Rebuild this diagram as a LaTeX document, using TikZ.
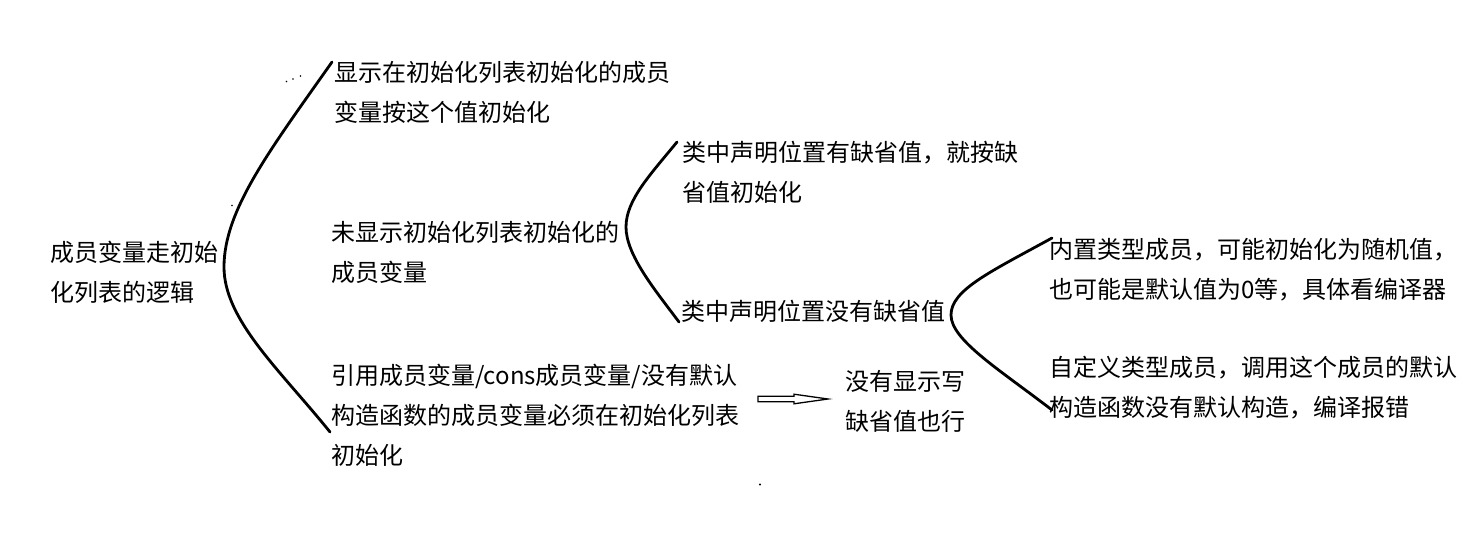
\documentclass[tikz,border=0pt]{standalone}
\usepackage{fontspec}
\setmainfont{Noto Sans CJK SC}
\begin{document}
\begin{tikzpicture}[x=1pt,y=-1pt,
  txt/.style={anchor=west,align=left,inner sep=0pt,font=\fontsize{24pt}{40pt}\selectfont},
  brace/.style={line width=2.8pt,line cap=round,line join=round},
  hollow/.style={line width=1.3pt,fill=white,line join=miter},
  speck/.style={fill=black,inner sep=0pt,minimum size=1.6pt,circle}]
\useasboundingbox[fill=white] (0,0) rectangle (1479,543);

\node[txt] (root) at (50,272) {成员变量走初始\\化列表的逻辑};
\node[txt] (a1) at (334,92) {显示在初始化列表初始化的成员\\变量按这个值初始化};
\node[txt] (a2) at (331,252) {未显示初始化列表初始化的\\成员变量};
\node[txt] (a3) at (331,415) {引用成员变量/cons成员变量/没有默认\\构造函数的成员变量必须在初始化列表\\初始化};
\node[txt] (b1) at (682,172) {类中声明位置有缺省值，就按缺\\省值初始化};
\node[txt] (b2) at (681,311) {类中声明位置没有缺省值};
\node[txt] (c1) at (1049,270) {内置类型成员，可能初始化为随机值，\\也可能是默认值为0等，具体看编译器};
\node[txt] (c2) at (1049,388) {自定义类型成员，调用这个成员的默认\\构造函数没有默认构造，编译报错};
\node[txt] (d) at (845,401) {没有显示写\\缺省值也行};

% bracket from root
\coordinate (v1) at (224,267);
\coordinate (t1) at (332,62);
\coordinate (e1) at (330,432);
\draw[brace] (t1) .. controls (270,150) and (224,210) .. (v1)
             .. controls (224,320) and (280,370) .. (e1);

% bracket from a2
\coordinate (v2) at (626,227);
\coordinate (t2) at (677,142);
\coordinate (e2) at (679,322);
\draw[brace] (t2) .. controls (650,175) and (626,200) .. (v2)
             .. controls (626,255) and (655,290) .. (e2);

% bracket from b2
\coordinate (v3) at (951,315);
\coordinate (t3) at (1052,238);
\coordinate (e3) at (1052,410);
\draw[brace] (t3) .. controls (990,272) and (951,290) .. (v3)
             .. controls (951,340) and (1000,370) .. (e3);

% hollow arrow a3 -> d
\coordinate (arrS) at (758,399);
\coordinate (arrE) at (828,399);
\draw[hollow] (arrS) ++(0,-2.8) -- ++(36,0) -- ++(0,-2) -- (arrE) -- ++(-34,4.8) -- ++(0,-2) -- ++(-36,0) -- cycle;

% stray specks
\node[speck] (s1) at (286.5,81.5) {};
\node[speck] (s2) at (293,79) {};
\node[speck] (s3) at (300.5,76) {};
\node[speck] (s4) at (232,205.5) {};
\node[speck,minimum size=2.4pt] (s5) at (760,484.5) {};
\end{tikzpicture}
\end{document}
